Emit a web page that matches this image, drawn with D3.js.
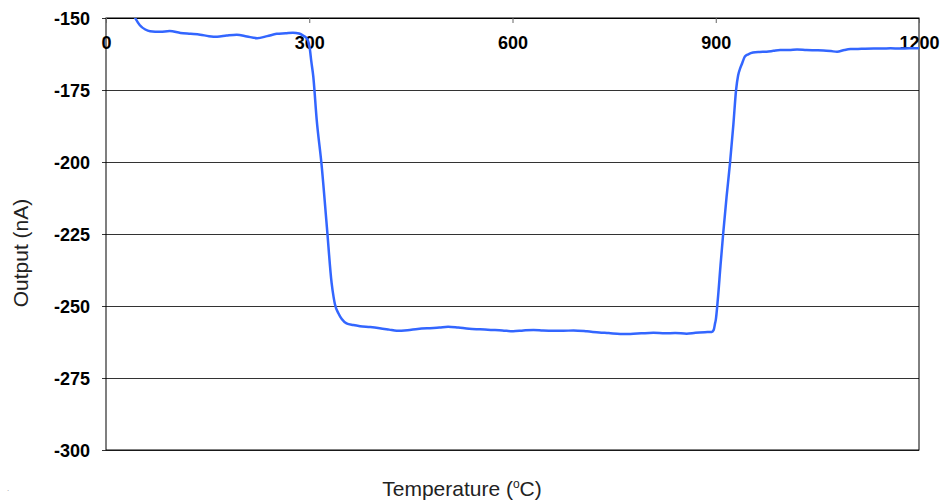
<!DOCTYPE html>
<html>
<head>
<meta charset="utf-8">
<script src="https://cdn.jsdelivr.net/npm/d3@7"></script>
<style>
  body { margin: 0; background: #fff; }
  svg { display: block; font-family: Arial, "Liberation Sans", sans-serif; }
  .tick text { font-weight: bold; font-size: 18px; fill: #000; }
</style>
</head>
<body>
<svg id="chart" width="940" height="501"></svg>
<script>
// temperature (deg C) and sensor output (nA)
var temperature = [35, 43, 50, 58, 65, 80, 94, 110, 125, 139, 152, 164, 178, 193, 208, 223, 238, 252, 265, 276,
    285, 291, 296, 299, 301, 303, 306, 311, 318, 326, 333, 336, 338, 343, 348, 355, 365, 375, 390, 404,
    418, 429, 445, 460, 478, 492, 505, 520, 536, 552, 568, 585, 601, 616, 631, 645, 660, 675, 690, 710,
    728, 742, 759, 774, 790, 808, 825, 840, 857, 870, 884, 894, 897, 899, 900, 903, 907, 911, 916, 921,
    926, 930, 933, 936, 939, 943, 948, 955, 965, 975, 985, 995, 1008, 1020, 1034, 1047, 1059, 1070, 1079, 1090,
    1099, 1115, 1133, 1145, 1158, 1172, 1186, 1200];
var output = [-146, -150, -152.5, -154, -154.6, -154.8, -154.5, -155.2, -155.5, -155.8, -156.3, -156.5, -156.1, -155.8, -156.4, -157.0, -156.3, -155.5, -155.3, -155.1,
    -155.4, -156.1, -157, -158.5, -161, -165, -170.4, -185.4, -200.5, -222.5, -242, -247, -249.5, -252.5, -254.5, -256, -256.6, -257, -257.3, -257.7,
    -258.2, -258.6, -258.4, -258, -257.7, -257.5, -257.2, -257.5, -257.9, -258.1, -258.3, -258.5, -258.8, -258.5, -258.3, -258.5, -258.6, -258.6, -258.5, -258.8,
    -259.2, -259.4, -259.7, -259.7, -259.5, -259.3, -259.5, -259.4, -259.6, -259.3, -259.1, -259, -258.3, -256, -254.9, -247.9, -236, -224.8, -212, -200.5,
    -187, -175, -170, -167.5, -165.7, -163.4, -162.6, -162, -161.8, -161.7, -161.4, -161.1, -161.1, -160.9, -161.1, -161.2, -161.3, -161.5, -161.7, -161.1,
    -160.8, -160.7, -160.6, -160.6, -160.5, -160.6, -160.5, -160.5];

var xTicks = [0, 300, 600, 900, 1200];
var yTicks = [-150, -175, -200, -225, -250, -275, -300];

var margin = {top: 18, left: 106},
    width = 813,
    height = 432;

var plain = function (d) { return String(d); };   // keep ASCII hyphen for negatives

var svg = d3.select("#chart");
var g = svg.append("g")
    .attr("transform", "translate(" + margin.left + "," + margin.top + ")");

var x = d3.scaleLinear().domain([0, 1200]).range([0, width]);
var y = d3.scaleLinear().domain([-300, -150]).range([height, 0]);

// horizontal gridlines with short outer ticks
var yAxis = g.append("g")
    .call(d3.axisLeft(y).tickValues(yTicks).tickFormat(plain)
        .tickSizeInner(-width - 4).tickSizeOuter(0).tickPadding(16));
yAxis.select(".domain").remove();
yAxis.selectAll(".tick line")
    .attr("x1", -4)
    .attr("x2", width)
    .attr("stroke", "#333");
yAxis.selectAll(".tick text").attr("dy", "0.36em");

// frame
g.append("rect")
    .attr("width", width)
    .attr("height", height)
    .attr("fill", "none")
    .attr("stroke", "#000")
    .attr("stroke-width", 1);

// x axis sits on the -150 line, ticks pointing inward
var xAxis = g.append("g")
    .call(d3.axisBottom(x).tickValues(xTicks).tickFormat(plain)
        .tickSize(5).tickPadding(13));
xAxis.select(".domain").attr("stroke", "#000");
xAxis.selectAll(".tick line").attr("stroke", "#666");
xAxis.selectAll(".tick text").attr("dy", "0.71em");

g.append("clipPath").attr("id", "plotClip")
    .append("rect").attr("width", width).attr("height", height);

var pts = temperature.map(function (t, i) { return [t, output[i]]; });

var line = d3.line()
    .x(function (d) { return x(d[0]); })
    .y(function (d) { return y(d[1]); })
    .curve(d3.curveMonotoneX);

g.append("path")
    .datum(pts)
    .attr("clip-path", "url(#plotClip)")
    .attr("fill", "none")
    .attr("stroke", "#3366ff")
    .attr("stroke-width", 2.5)
    .attr("stroke-linejoin", "round")
    .attr("d", line);

// axis titles
svg.append("text")
    .attr("transform", "translate(28," + 253 + ") rotate(-90)")
    .attr("text-anchor", "middle")
    .attr("font-size", 21)
    .attr("fill", "#222")
    .text("Output (nA)");

var xt = svg.append("text")
    .attr("x", 462)
    .attr("y", 496)
    .attr("text-anchor", "middle")
    .attr("font-size", 21)
    .attr("fill", "#222");
xt.append("tspan").text("Temperature (");
xt.append("tspan").attr("font-size", 12).attr("dy", -8).text("o");
xt.append("tspan").attr("dy", 8).text("C)");

svg.append("text")
    .attr("x", 7)
    .attr("y", 491)
    .attr("font-size", 8)
    .attr("fill", "#999")
    .text(".");
</script>
</body>
</html>
